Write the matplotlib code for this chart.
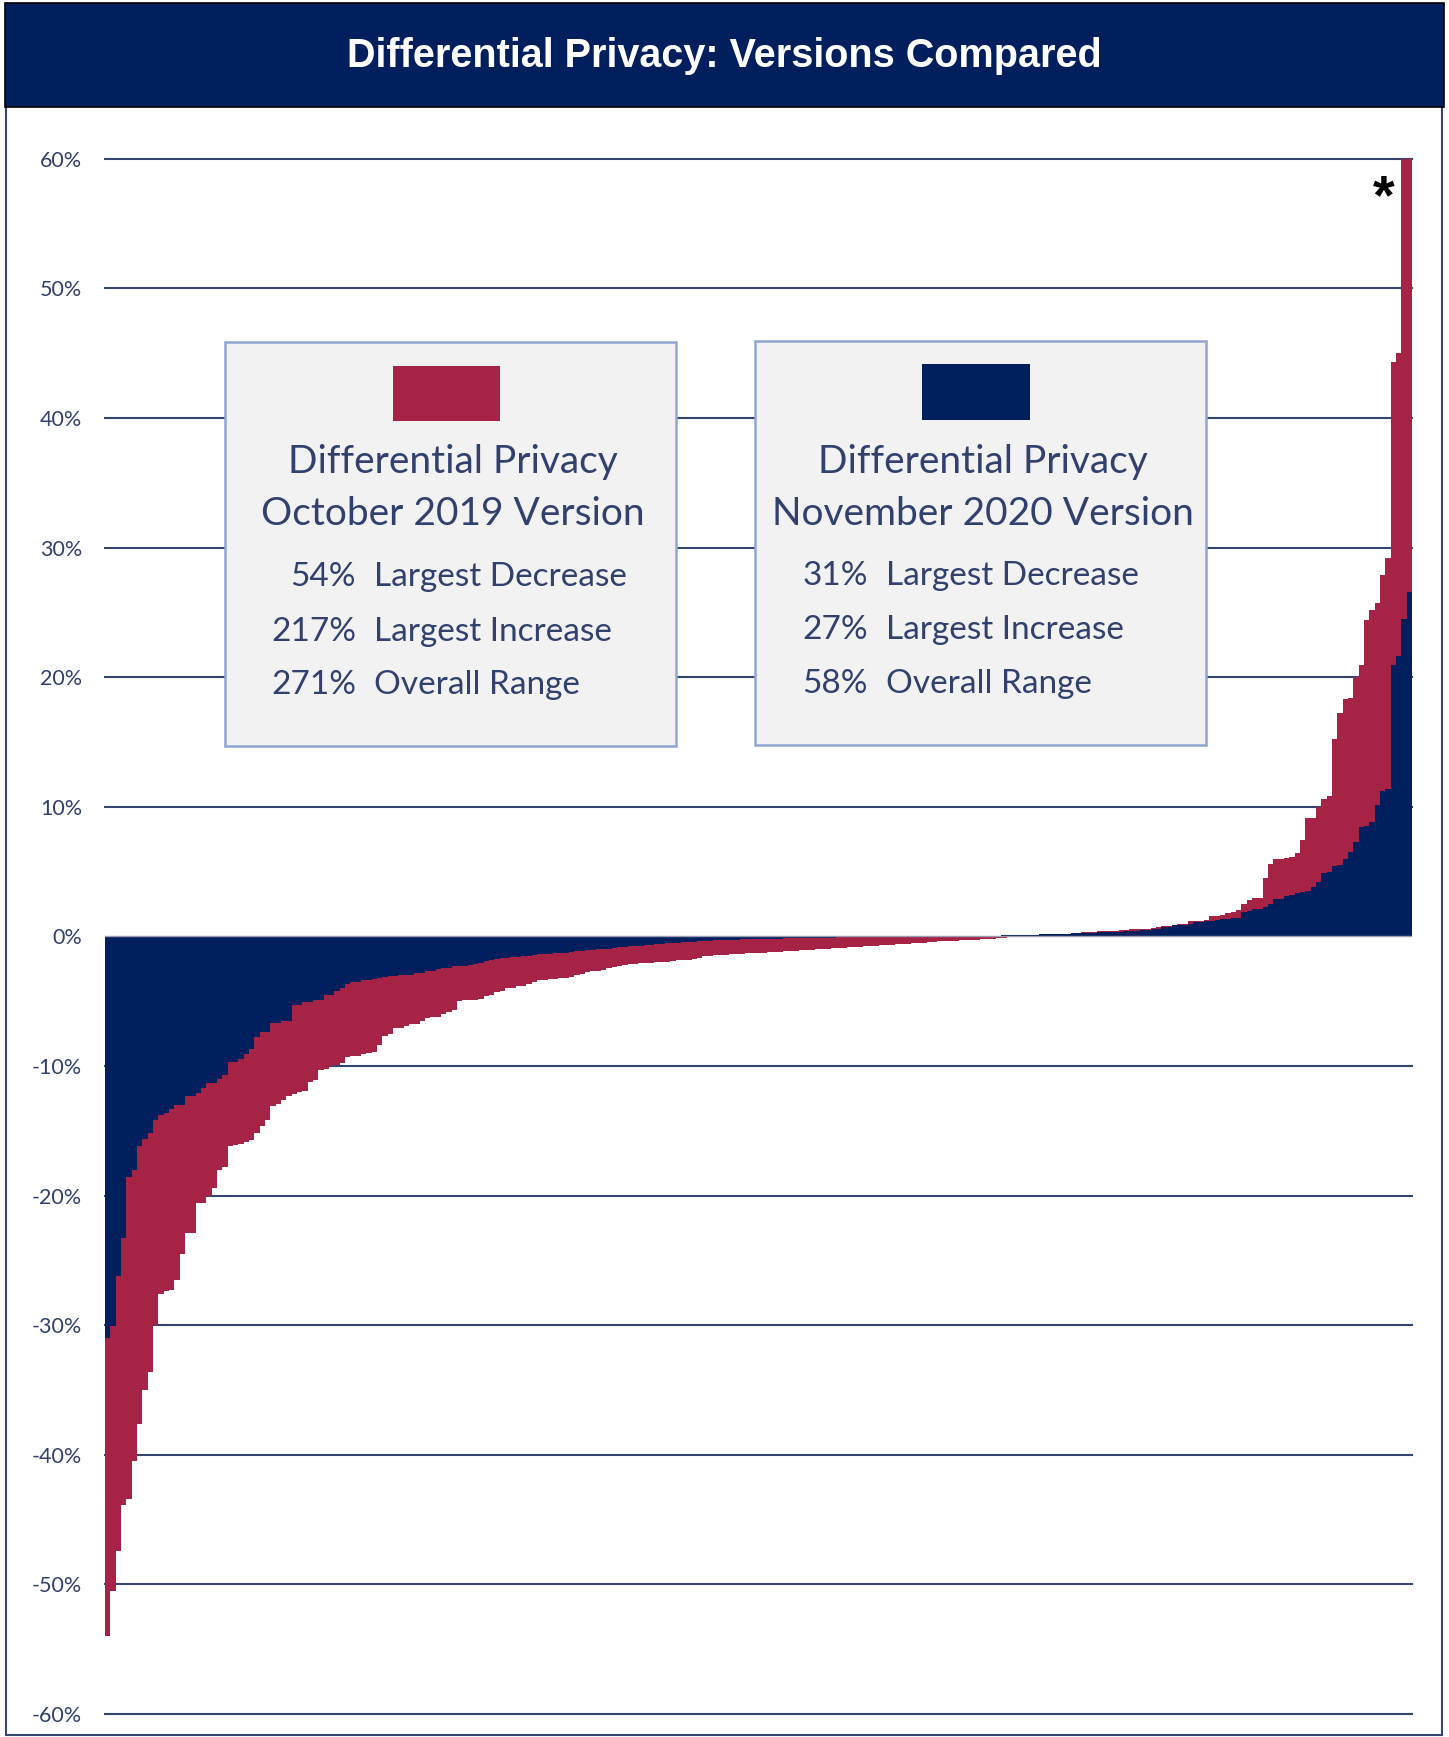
import numpy as np
import matplotlib.pyplot as plt
from matplotlib.patches import Rectangle

# sorted percent changes, one value per place
red_2019 = [
    -54.0, -50.5, -47.4, -43.9, -43.4, -40.5, -37.6, -35.0, -33.6, -30.0,
    -27.6, -27.4, -27.3, -26.5, -24.5, -22.9, -22.9, -20.6, -20.6, -20.0,
    -19.4, -18.0, -17.8, -16.2, -16.1, -16.0, -15.9, -15.7, -15.2, -14.6,
    -14.2, -13.1, -12.9, -12.6, -12.3, -12.2, -12.0, -11.9, -11.2, -11.1,
    -10.3, -10.2, -10.0, -9.9, -9.8, -9.3, -9.2, -9.2, -9.1, -9.0,
    -8.9, -8.4, -7.7, -7.5, -7.1, -7.05, -6.9, -6.8, -6.75, -6.5,
    -6.3, -6.2, -6.2, -6.0, -5.8, -5.7, -4.95, -4.92, -4.9, -4.88,
    -4.8, -4.6, -4.5, -4.3, -4.2, -4.0, -3.95, -3.85, -3.8, -3.7,
    -3.5, -3.4, -3.35, -3.3, -3.28, -3.25, -3.2, -3.15, -3.0, -2.9,
    -2.75, -2.7, -2.65, -2.6, -2.45, -2.4, -2.3, -2.2, -2.15, -2.1,
    -2.09, -2.08, -2.05, -2.0, -1.97, -1.95, -1.9, -1.85, -1.82, -1.8,
    -1.75, -1.7, -1.55, -1.5, -1.47, -1.45, -1.42, -1.4, -1.38, -1.33,
    -1.3, -1.28, -1.27, -1.25, -1.22, -1.2, -1.18, -1.15, -1.12, -1.1,
    -1.07, -1.05, -1.02, -1.0, -0.98, -0.95, -0.93, -0.9, -0.88, -0.85,
    -0.83, -0.8, -0.78, -0.75, -0.72, -0.7, -0.68, -0.65, -0.62, -0.6,
    -0.57, -0.55, -0.52, -0.5, -0.45, -0.42, -0.38, -0.37, -0.35, -0.33,
    -0.32, -0.3, -0.28, -0.26, -0.24, -0.2, -0.17, -0.14, -0.1, -0.07,
    -0.03, 0.0, 0.02, 0.04, 0.06, 0.08, 0.1, 0.12, 0.14, 0.17,
    0.2, 0.23, 0.27, 0.3, 0.33, 0.35, 0.38, 0.4, 0.42, 0.45,
    0.48, 0.5, 0.53, 0.56, 0.58, 0.6, 0.64, 0.7, 0.8, 0.82,
    0.9, 0.93, 0.95, 1.18, 1.2, 1.22, 1.25, 1.54, 1.56, 1.67,
    1.83, 1.9, 2.06, 2.47, 2.78, 2.93, 2.98, 4.53, 5.56, 5.94,
    5.98, 6.03, 6.1, 6.4, 7.46, 9.1, 9.1, 10.0, 10.6, 10.8,
    15.2, 17.2, 18.3, 18.4, 20.0, 20.9, 24.4, 25.2, 25.7, 27.9,
    29.2, 44.3, 45.0, 70.0, 217.0,
]

navy_2020 = [
    -31.0, -30.1, -26.2, -23.3, -18.6, -18.0, -16.2, -15.6, -15.2, -14.2,
    -13.8, -13.6, -13.3, -13.0, -13.0, -12.3, -12.3, -12.1, -11.7, -11.3,
    -11.3, -11.0, -10.7, -9.7, -9.7, -9.5, -9.1, -8.7, -7.8, -7.4,
    -7.4, -6.7, -6.7, -6.5, -6.5, -5.3, -5.3, -5.1, -5.1, -4.9,
    -4.9, -4.55, -4.55, -4.2, -4.0, -3.65, -3.5, -3.5, -3.35, -3.35,
    -3.3, -3.25, -3.15, -3.05, -3.05, -2.98, -2.95, -2.95, -2.85, -2.8,
    -2.7, -2.65, -2.5, -2.45, -2.45, -2.3, -2.25, -2.25, -2.2, -2.15,
    -2.05, -1.9, -1.8, -1.75, -1.7, -1.65, -1.62, -1.6, -1.55, -1.5,
    -1.45, -1.4, -1.38, -1.35, -1.3, -1.28, -1.25, -1.2, -1.15, -1.1,
    -1.08, -1.05, -1.0, -0.98, -0.95, -0.9, -0.85, -0.8, -0.78, -0.75,
    -0.72, -0.7, -0.65, -0.62, -0.6, -0.55, -0.5, -0.48, -0.45, -0.42,
    -0.4, -0.38, -0.35, -0.33, -0.3, -0.28, -0.27, -0.26, -0.25, -0.24,
    -0.23, -0.22, -0.21, -0.2, -0.19, -0.18, -0.17, -0.16, -0.15, -0.14,
    -0.13, -0.12, -0.12, -0.11, -0.1, -0.1, -0.09, -0.08, -0.08, -0.07,
    -0.06, -0.06, -0.05, -0.05, -0.04, -0.04, -0.03, -0.03, -0.02, -0.02,
    -0.01, -0.01, 0.0, 0.0, 0.01, 0.01, 0.02, 0.02, 0.02, 0.03,
    0.03, 0.03, 0.04, 0.04, 0.04, 0.05, 0.05, 0.05, 0.07, 0.08,
    0.1, 0.11, 0.12, 0.13, 0.14, 0.15, 0.16, 0.17, 0.18, 0.2,
    0.21, 0.22, 0.24, 0.25, 0.27, 0.28, 0.3, 0.31, 0.33, 0.35,
    0.37, 0.4, 0.42, 0.45, 0.48, 0.5, 0.54, 0.56, 0.7, 0.72,
    0.85, 0.86, 0.9, 0.98, 1.1, 1.1, 1.18, 1.2, 1.28, 1.36,
    1.36, 1.44, 1.44, 1.88, 1.93, 2.08, 2.14, 2.27, 2.47, 2.86,
    2.91, 3.1, 3.2, 3.35, 3.4, 3.5, 3.8, 4.2, 4.9, 5.0,
    5.4, 5.5, 6.0, 6.5, 7.3, 8.4, 8.5, 8.8, 10.1, 11.2,
    11.4, 20.9, 21.6, 24.5, 26.6,
]

y_ticks = [-60, -50, -40, -30, -20, -10, 0, 10, 20, 30, 40, 50, 60]
y_labels = ['-60%', '-50%', '-40%', '-30%', '-20%', '-10%', '0%',
            '10%', '20%', '30%', '40%', '50%', '60%']

title = 'Differential Privacy: Versions Compared'
box_titles = [('Differential Privacy', 'October 2019 Version'),
              ('Differential Privacy', 'November 2020 Version')]
box_nums = [['54%', '217%', '271%'], ['31%', '27%', '58%']]
box_words = ['Largest Decrease', 'Largest Increase', 'Overall Range']

RED = '#A62345'
NAVY = '#001F5C'
GRID = '#34466F'
TXT = '#32406E'
BOXFILL = '#F2F2F2'
BOXEDGE = '#8FA6D2'

W, H = 1449, 1737
DPI = 100


def fx(x):
    return x / W


def fy(y):
    return 1 - y / H


def fig_rect(x0, y0, x1, y1, **kw):
    r = Rectangle((fx(x0), fy(y1)), fx(x1) - fx(x0), fy(y0) - fy(y1),
                  transform=fig.transFigure, **kw)
    fig.add_artist(r)
    return r


plt.rcParams['font.family'] = ['Lato', 'DejaVu Sans']

fig = plt.figure(figsize=(W / DPI, H / DPI), dpi=DPI)
fig.patch.set_facecolor('white')

# frame and title banner
fig_rect(6, 4, 1442, 1735, fill=False, edgecolor=GRID, lw=1.5, zorder=0)
fig_rect(5, 3, 1444, 107, facecolor=NAVY, edgecolor='black', lw=1.2, zorder=1)
fig.text(fx(724), fy(56), title, color='white', fontsize=28.5, fontweight='bold',
         family=['Liberation Sans', 'DejaVu Sans'],
         ha='center', va='center')

# main plot
ax = fig.add_axes([fx(105), fy(1714), fx(1412) - fx(105), fy(158.7) - fy(1714)])
n = len(red_2019)
edges = np.arange(n + 1)
ax.stairs(red_2019, edges, fill=True, baseline=0, color=RED, zorder=2)
ax.stairs(navy_2020, edges, fill=True, baseline=0, color=NAVY, zorder=3)
for t in y_ticks:
    if t != 0:
        ax.axhline(t, color=GRID, lw=1.5, zorder=0, clip_on=False)
ax.axhline(0, color='#9C9CB4', lw=1.0, zorder=4)

ax.set_xlim(0, n)
ax.set_ylim(-60, 60)
ax.set_yticks(y_ticks)
ax.set_yticklabels(y_labels)
ax.set_xticks([])
ax.tick_params(axis='y', length=0, pad=16.5, labelsize=15.5, labelcolor=TXT)
for s in ax.spines.values():
    s.set_visible(False)

# the clipped 217% bar
ax.text(239.7, 55.8, '*', fontsize=40, fontweight='bold', color='black',
        family=['Liberation Sans', 'DejaVu Sans'],
        ha='center', va='baseline', zorder=6)

# the two summary boxes
boxes = [(225, 342, 676, 746), (755, 341, 1206, 745)]
swatches = [(393, 366, 500, 421), (922, 364, 1030, 420)]
swatch_colors = [RED, NAVY]
title_cx = [453, 983]
num_right = [356, 868]
word_left = [374, 886]
stat_y = [[577, 632, 685], [576, 630, 684]]

for k in range(2):
    x0, y0, x1, y1 = boxes[k]
    fig_rect(x0, y0, x1, y1, facecolor=BOXFILL, edgecolor=BOXEDGE, lw=1.8, zorder=2)
    sx0, sy0, sx1, sy1 = swatches[k]
    fig_rect(sx0, sy0, sx1, sy1, facecolor=swatch_colors[k], edgecolor='none', zorder=3)
    fig.text(fx(title_cx[k]), fy(462), box_titles[k][0], color=TXT, fontsize=28,
             ha='center', va='center', zorder=4)
    fig.text(fx(title_cx[k]), fy(514), box_titles[k][1], color=TXT, fontsize=28,
             ha='center', va='center', zorder=4)
    for j in range(3):
        fig.text(fx(num_right[k]), fy(stat_y[k][j]), box_nums[k][j], color=TXT,
                 fontsize=24, ha='right', va='center', zorder=4)
        fig.text(fx(word_left[k]), fy(stat_y[k][j]), box_words[j], color=TXT,
                 fontsize=24, ha='left', va='center', zorder=4)

fig.savefig('out.png', dpi=DPI)
